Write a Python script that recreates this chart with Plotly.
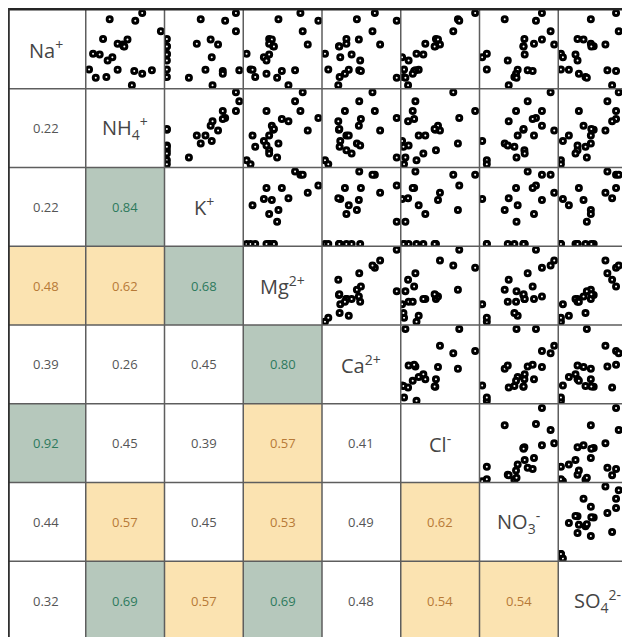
import plotly.graph_objects as go

ions = ["Na<sup>+</sup>", "NH<sub>4</sub><sup>+</sup>", "K<sup>+</sup>", "Mg<sup>2+</sup>",
        "Ca<sup>2+</sup>", "Cl<sup>-</sup>", "NO<sub>3</sub><sup>-</sup>", "SO<sub>4</sub><sup>2-</sup>"]

# normalised concentrations (0..1 of each ion's range), one value per sample
na  = [.962, .882, .865, .730, .633, .624, .570, .561, .540, .443, .435, .401, .359, .245, .241, .236, .224, .190, .148, .139, .046, .536]
nh4 = [.717, .304, .629, .954, .220, .530, .405, .470, .480, .093, .177, .338, .278, .042, .405, .840, .616, .717, .262, .127, .586, .490]
k   = [.907, .460, .770, .907, .030, .586, .410, .680, .030, .030, .030, .600, .030, .030, .520, .950, .740, .740, .030, .310, .610, .030]
mg  = [.726, .447, .954, .755, .329, .363, .329, .819, .380, .042, .329, .262, .295, .093, .118, .658, .490, .295, .152, .430, .574, .390]
ca  = [.671, .443, .949, .641, .310, .468, .310, .738, .215, .038, .376, .232, .485, .080, .340, .473, .494, .291, .224, .949, .207, .220]
cl  = [.945, .726, .743, .667, .447, .473, .312, .498, .439, .200, .287, .017, .100, .042, .228, .186, .170, .152, .034, .059, .093, .430]
no3 = [.793, .320, .717, .903, .570, .793, .692, .949, .557, .093, .574, .034, .359, .093, .485, .612, .675, .464, .443, .470, .371, .560]
so4 = [.734, .414, .950, .768, .245, .321, .414, .599, .450, .034, .219, .059, .245, .034, .135, .624, .734, .262, .346, .363, .684, .420]
series = [na, nh4, k, mg, ca, cl, no3, so4]

# lower-triangle correlation coefficients (row ion vs column ion)
corr = [
    [],
    [0.22],
    [0.22, 0.84],
    [0.48, 0.62, 0.68],
    [0.39, 0.26, 0.45, 0.80],
    [0.92, 0.45, 0.39, 0.57, 0.41],
    [0.44, 0.57, 0.45, 0.53, 0.49, 0.62],
    [0.32, 0.69, 0.57, 0.69, 0.48, 0.54, 0.54],
]
# significance class of each coefficient: "s" strong, "m" moderate, "n" none
signif = [
    [],
    ["n"],
    ["n", "s"],
    ["m", "m", "s"],
    ["n", "n", "n", "s"],
    ["s", "n", "n", "m", "n"],
    ["n", "m", "n", "m", "n", "m"],
    ["n", "s", "m", "s", "n", "m", "m"],
]

# page body has an 8px margin; figure sized to fill the rest of the window
W, H = 622, 629
X0, Y0, C = -1.0, 2.0, 78.75
n = len(ions)

def xp(px):
    return px / W

def yp(py):
    return 1 - py / H

fill = {"s": "#b6c8bc", "m": "#fbe3b1", "n": "rgba(0,0,0,0)"}
tcol = {"s": "#2e7a5c", "m": "#b77a37", "n": "#555555"}

fig = go.Figure()
shapes = []
annotations = []
layout_axes = {}
idx = 0
for r in range(n):
    for c in range(n):
        left, right = X0 + c * C, X0 + (c + 1) * C
        top, bot = Y0 + r * C, Y0 + (r + 1) * C
        cx, cy = (left + right) / 2, (top + bot) / 2
        if c < r:
            s = signif[r][c]
            if s != "n":
                shapes.append(dict(type="rect", xref="paper", yref="paper",
                                   x0=xp(left), x1=xp(right), y0=yp(bot), y1=yp(top),
                                   fillcolor=fill[s], line=dict(width=0), layer="below"))
            annotations.append(dict(x=xp(cx), y=yp(cy), xref="paper", yref="paper",
                                    xanchor="center", yanchor="middle",
                                    text=f"{corr[r][c]:.2f}", showarrow=False,
                                    font=dict(size=13, color=tcol[s], family="Open Sans")))
        elif c == r:
            annotations.append(dict(x=xp(cx), y=yp(cy), xref="paper", yref="paper",
                                    xanchor="center", yanchor="middle",
                                    text=ions[r], showarrow=False,
                                    font=dict(size=20, color="#454545", family="Open Sans")))
        else:
            idx += 1
            sfx = "" if idx == 1 else str(idx)
            rr = min(right, W)
            xr = (rr - left) / C
            layout_axes["xaxis" + sfx] = dict(domain=[xp(left), xp(rr)], range=[0, xr],
                                              visible=False, fixedrange=True,
                                              anchor="y" + sfx)
            layout_axes["yaxis" + sfx] = dict(domain=[yp(bot), yp(top)], range=[0, 1],
                                              visible=False, fixedrange=True,
                                              anchor="x" + sfx)
            fig.add_trace(go.Scatter(x=series[c], y=series[r], mode="markers",
                                     xaxis="x" + sfx, yaxis="y" + sfx,
                                     marker=dict(size=5, color="white",
                                                 line=dict(width=3, color="black")),
                                     hoverinfo="skip", showlegend=False))

# grid lines
for k in range(1, n + 1):
    x = X0 + k * C
    shapes.append(dict(type="line", xref="paper", yref="paper", x0=xp(x), x1=xp(x),
                       y0=yp(Y0), y1=yp(Y0 + n * C), line=dict(color="#5e5e5e", width=1.5)))
    y = Y0 + k * C
    shapes.append(dict(type="line", xref="paper", yref="paper", x0=xp(X0), x1=xp(X0 + n * C),
                       y0=yp(y), y1=yp(y), line=dict(color="#5e5e5e", width=1.5)))
shapes.append(dict(type="line", xref="paper", yref="paper", x0=xp(0), x1=xp(X0 + n * C),
                   y0=yp(1.2), y1=yp(1.2), line=dict(color="#252525", width=2.5)))
shapes.append(dict(type="line", xref="paper", yref="paper", x0=xp(0.8), x1=xp(0.8),
                   y0=yp(0), y1=yp(Y0 + n * C), line=dict(color="#303030", width=2)))

fig.update_layout(width=W, height=H, margin=dict(l=0, r=0, t=0, b=0),
                  paper_bgcolor="white", plot_bgcolor="rgba(0,0,0,0)",
                  shapes=shapes, annotations=annotations, **layout_axes)
fig.write_html("out.html", config={"displayModeBar": False})
